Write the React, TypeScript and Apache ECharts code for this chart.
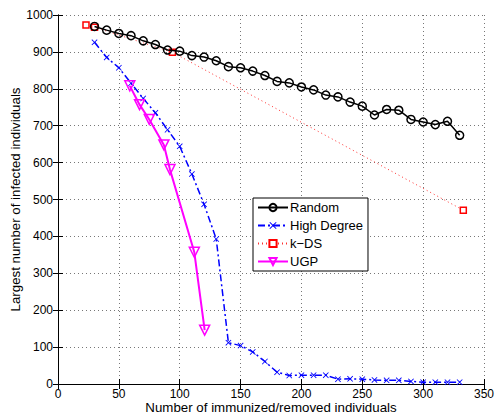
import React, { useEffect, useRef } from "react";
import * as echarts from "echarts";

const randomX = [30, 40, 50, 60, 70, 80, 90, 100, 110, 120, 130, 140, 150, 160, 170, 180, 190, 200, 210, 220, 230, 240, 250, 260, 270, 280, 290, 300, 310, 320, 330];
const randomY = [969, 959, 950, 944, 930, 920, 905, 902, 890, 886, 876, 860, 857, 848, 836, 820, 816, 805, 797, 783, 778, 764, 753, 729, 744, 742, 717, 710, 703, 712, 674];

const highX = [30, 40, 50, 60, 70, 80, 90, 100, 110, 120, 130, 140, 150, 160, 170, 180, 190, 200, 210, 220, 230, 240, 250, 260, 270, 280, 290, 300, 310, 320, 330];
const highY = [926, 885, 857, 815, 774, 735, 689, 644, 569, 487, 393, 112, 104, 87, 61, 32, 23, 24, 24, 24, 13, 14, 13, 11, 10, 10, 7, 5, 5, 5, 5];

const kdsX = [23, 30, 94, 333];
const kdsY = [973, 967, 899, 471];

const ugpX = [59, 67, 75, 87, 92, 112, 120.5];
const ugpY = [808, 757, 717, 648, 581, 357, 146];

const xTicks = { min: 0, max: 350, interval: 50 };
const yTicks = { min: 0, max: 1000, interval: 100 };

const zip = (xs: number[], ys: number[]) => xs.map((x, i) => [x, ys[i]]);

const FONT = "'Liberation Sans', Arial, Helvetica, sans-serif";
const CROSS = "path://M0,1L1,0L5,4L9,0L10,1L6,5L10,9L9,10L5,6L1,10L0,9L4,5Z";

export default function App() {
  const ref = useRef<HTMLDivElement>(null);
  useEffect(() => {
    if (!ref.current) return;
    const chart = echarts.init(ref.current, null, { renderer: "svg" });
    const gridLine = { show: true, lineStyle: { color: "#777", type: [1, 3] as any, width: 1 } };
    const axisBase = {
      type: "value" as const,
      axisLine: { show: true, lineStyle: { color: "#000", width: 1 } },
      axisTick: { show: true, inside: true, length: 5, lineStyle: { color: "#000" } },
    };
    chart.setOption({
      animation: false,
      backgroundColor: "#fff",
      textStyle: { fontFamily: FONT },
      grid: { left: 58, right: 11, top: 15, bottom: 34, containLabel: false, outerBoundsMode: "none" },
      legend: {
        orient: "vertical",
        left: 253,
        top: 198,
        backgroundColor: "#fff",
        borderColor: "#000",
        borderWidth: 1,
        borderRadius: 0,
        padding: [3, 5, 3, 4],
        itemWidth: 30,
        itemHeight: 9,
        itemGap: 5,
        textStyle: { fontFamily: FONT, fontSize: 13, color: "#000", padding: [0, 0, 0, -3] },
        data: ["Random", "High Degree", "k\u2212DS", "UGP"],
      },
      xAxis: [
        {
          ...axisBase,
          ...xTicks,
          position: "bottom",
          name: "Number of immunized/removed individuals",
          nameLocation: "middle",
          nameGap: 17,
          nameMoveOverlap: false,
          nameTextStyle: { fontFamily: FONT, fontSize: 13.3, color: "#000" },
          axisLabel: { fontFamily: FONT, fontSize: 12, color: "#000", margin: 4 },
          splitLine: gridLine,
        },
        {
          ...axisBase,
          ...xTicks,
          position: "top",
          axisLabel: { show: false },
          splitLine: { show: false },
        },
      ],
      yAxis: [
        {
          ...axisBase,
          ...yTicks,
          position: "left",
          name: "Largest number of infected individuals",
          nameLocation: "middle",
          nameGap: 36,
          nameMoveOverlap: false,
          nameTextStyle: { fontFamily: FONT, fontSize: 13.3, color: "#000" },
          axisLabel: { fontFamily: FONT, fontSize: 12, color: "#000", margin: 5, formatter: (v: number) => String(v) },
          splitLine: gridLine,
        },
        {
          ...axisBase,
          ...yTicks,
          position: "right",
          axisLabel: { show: false },
          splitLine: { show: false },
        },
      ],
      series: [
        {
          name: "k\u2212DS",
          type: "line",
          data: zip(kdsX, kdsY),
          symbol: "rect",
          symbolSize: 6,
          lineStyle: { color: "#ff3030", width: 1, type: [1, 3] as any },
          itemStyle: { color: "#fff", borderColor: "#ff0000", borderWidth: 1.5 },
          z: 2,
        },
        {
          name: "Random",
          type: "line",
          data: zip(randomX, randomY),
          symbol: "circle",
          symbolSize: 8,
          lineStyle: { color: "#000", width: 1.5 },
          itemStyle: { color: "rgba(255,255,255,0)", borderColor: "#000", borderWidth: 1.5 },
          z: 3,
        },
        {
          name: "High Degree",
          type: "line",
          data: zip(highX, highY),
          symbol: CROSS,
          symbolSize: 6,
          lineStyle: { color: "#0000ff", width: 1.5, type: [7, 3, 2, 3] as any },
          itemStyle: { color: "#0000ff" },
          z: 3,
        },
        {
          name: "UGP",
          type: "line",
          data: zip(ugpX, ugpY),
          symbol: "triangle",
          symbolRotate: 180,
          symbolSize: 10,
          lineStyle: { color: "#ff00ff", width: 2 },
          itemStyle: { color: "rgba(255,255,255,0)", borderColor: "#ff00ff", borderWidth: 1.5 },
          z: 4,
        },
      ],
    });
    return () => chart.dispose();
  }, []);
  return <div ref={ref} style={{ width: 495, height: 418, position: "absolute", left: 0, top: 0 }} />;
}
